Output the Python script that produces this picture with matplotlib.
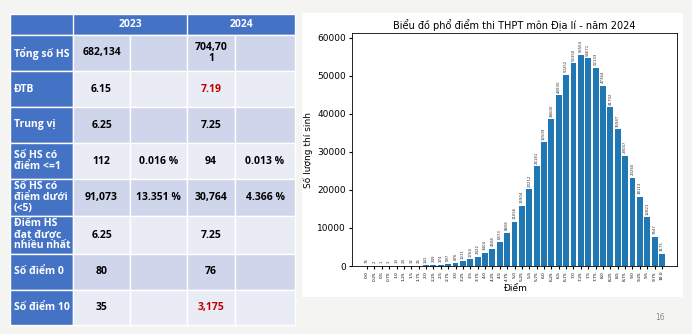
import matplotlib
matplotlib.use('Agg')
import matplotlib.pyplot as plt
from matplotlib.patches import Rectangle
import numpy as np

# distribution data (score -> number of candidates)
scores = np.arange(0, 10.01, 0.25)
counts = [76, 2, 1, 3, 13, 24, 32, 26, 141, 249, 374, 597, 876, 1211, 1764, 2422,
          3404, 4508, 6373, 8658, 11656, 15904, 20212, 26181, 32509, 38600, 44930,
          50252, 53350, 55564, 54671, 52133, 47364, 41702, 35947, 29067, 23260,
          18113, 12821, 7647, 3175]

# comparison table
years = ["2023", "2024"]
row_labels = ["Tổng số HS", "ĐTB", "Trung vị", "Số HS có\nđiểm <=1",
              "Số HS có\nđiểm dưới\n(<5)", "Điểm HS\nđạt được\nnhiều nhất",
              "Số điểm 0", "Số điểm 10"]
col_2023 = ["682,134", "6.15", "6.25", "112", "91,073", "6.25", "80", "35"]
pct_2023 = ["", "", "", "0.016 %", "13.351 %", "", "", ""]
col_2024 = ["704,70\n1", "7.19", "7.25", "94", "30,764", "7.25", "76", "3,175"]
pct_2024 = ["", "", "", "0.013 %", "4.366 %", "", "", ""]
red_2024 = [False, True, False, False, False, False, False, True]

W, H = 692, 334
fig = plt.figure(figsize=(W / 100, H / 100), dpi=100)
fig.patch.set_facecolor('#f4f4f3')

bg = fig.add_axes([0, 0, 1, 1])
bg.set_xlim(0, W)
bg.set_ylim(H, 0)
bg.axis('off')

# table geometry
xs = [10, 73, 130, 187, 235, 295]
ys = [14, 35, 71, 107, 143, 179, 216, 254, 290, 325]
blue = '#4472c4'
dark = '#cfd5ea'
light = '#e9ebf5'
tfont = ['Open Sans', 'DejaVu Sans']

bg.add_patch(Rectangle((xs[0], ys[0]), xs[-1] - xs[0], ys[1] - ys[0], fc=blue, ec='white', lw=1))
for i, y in enumerate(years):
    bg.text((xs[1 + 2 * i] + xs[3 + 2 * i]) / 2, (ys[0] + ys[1]) / 2, y, color='white',
            fontsize=7.5, fontweight='bold', ha='center', va='center', family=tfont)
bg.plot([xs[3], xs[3]], [ys[0], ys[1]], color='white', lw=1)
bg.plot([xs[1], xs[1]], [ys[0], ys[1]], color='white', lw=1)

for r in range(len(row_labels)):
    y0, y1 = ys[r + 1], ys[r + 2]
    yc = (y0 + y1) / 2
    bg.add_patch(Rectangle((xs[0], y0), xs[1] - xs[0], y1 - y0, fc=blue, ec='white', lw=1))
    fc = dark if r % 2 == 0 else light
    for c in range(1, 5):
        bg.add_patch(Rectangle((xs[c], y0), xs[c + 1] - xs[c], y1 - y0, fc=fc, ec='white', lw=1))
    bg.text(xs[0] + 4, yc, row_labels[r], color='white', fontsize=7.5, fontweight='bold',
            ha='left', va='center', family=tfont, linespacing=1.0)
    vals = [col_2023[r], pct_2023[r], col_2024[r], pct_2024[r]]
    for c, v in enumerate(vals):
        color = '#c00000' if (c == 2 and red_2024[r]) else 'black'
        bg.text((xs[c + 1] + xs[c + 2]) / 2, yc, v, color=color, fontsize=7.5,
                fontweight='bold', ha='center', va='center', family=tfont, linespacing=1.0)

# chart panel
bg.add_patch(Rectangle((302, 13), 381, 284, fc='white', ec='none'))
bg.text(660, 318, "16", color='#8c8c8c', fontsize=5.5, ha='center', va='center')

ax = fig.add_axes([352 / W, (H - 266) / H, (677 - 352) / W, (266 - 33) / H])
ax.bar(scores, counts, width=0.2, color='#1f77b4')
for s, v in zip(scores, counts):
    ax.text(s, v + 700, str(v), rotation=90, fontsize=2.8, ha='center', va='bottom', color='#333333')
ax.set_xticks(scores)
ax.set_xticklabels([str(float(s)) for s in scores], rotation=90, fontsize=3.2)
ax.set_ylim(0, 61300)
ax.set_xlim(-0.51, 10.51)
ax.tick_params(axis='y', labelsize=6.5, length=2.5, pad=2)
ax.tick_params(axis='x', length=2, pad=1.5)
ax.set_title("Biểu đồ phổ điểm thi THPT môn Địa lí - năm 2024", fontsize=7, pad=3)
ax.set_xlabel("Điểm", fontsize=6.5, labelpad=2)
ax.set_ylabel("Số lượng thí sinh", fontsize=6.5, labelpad=3)
for sp in ax.spines.values():
    sp.set_linewidth(0.6)

fig.savefig('out.png', dpi=100)
